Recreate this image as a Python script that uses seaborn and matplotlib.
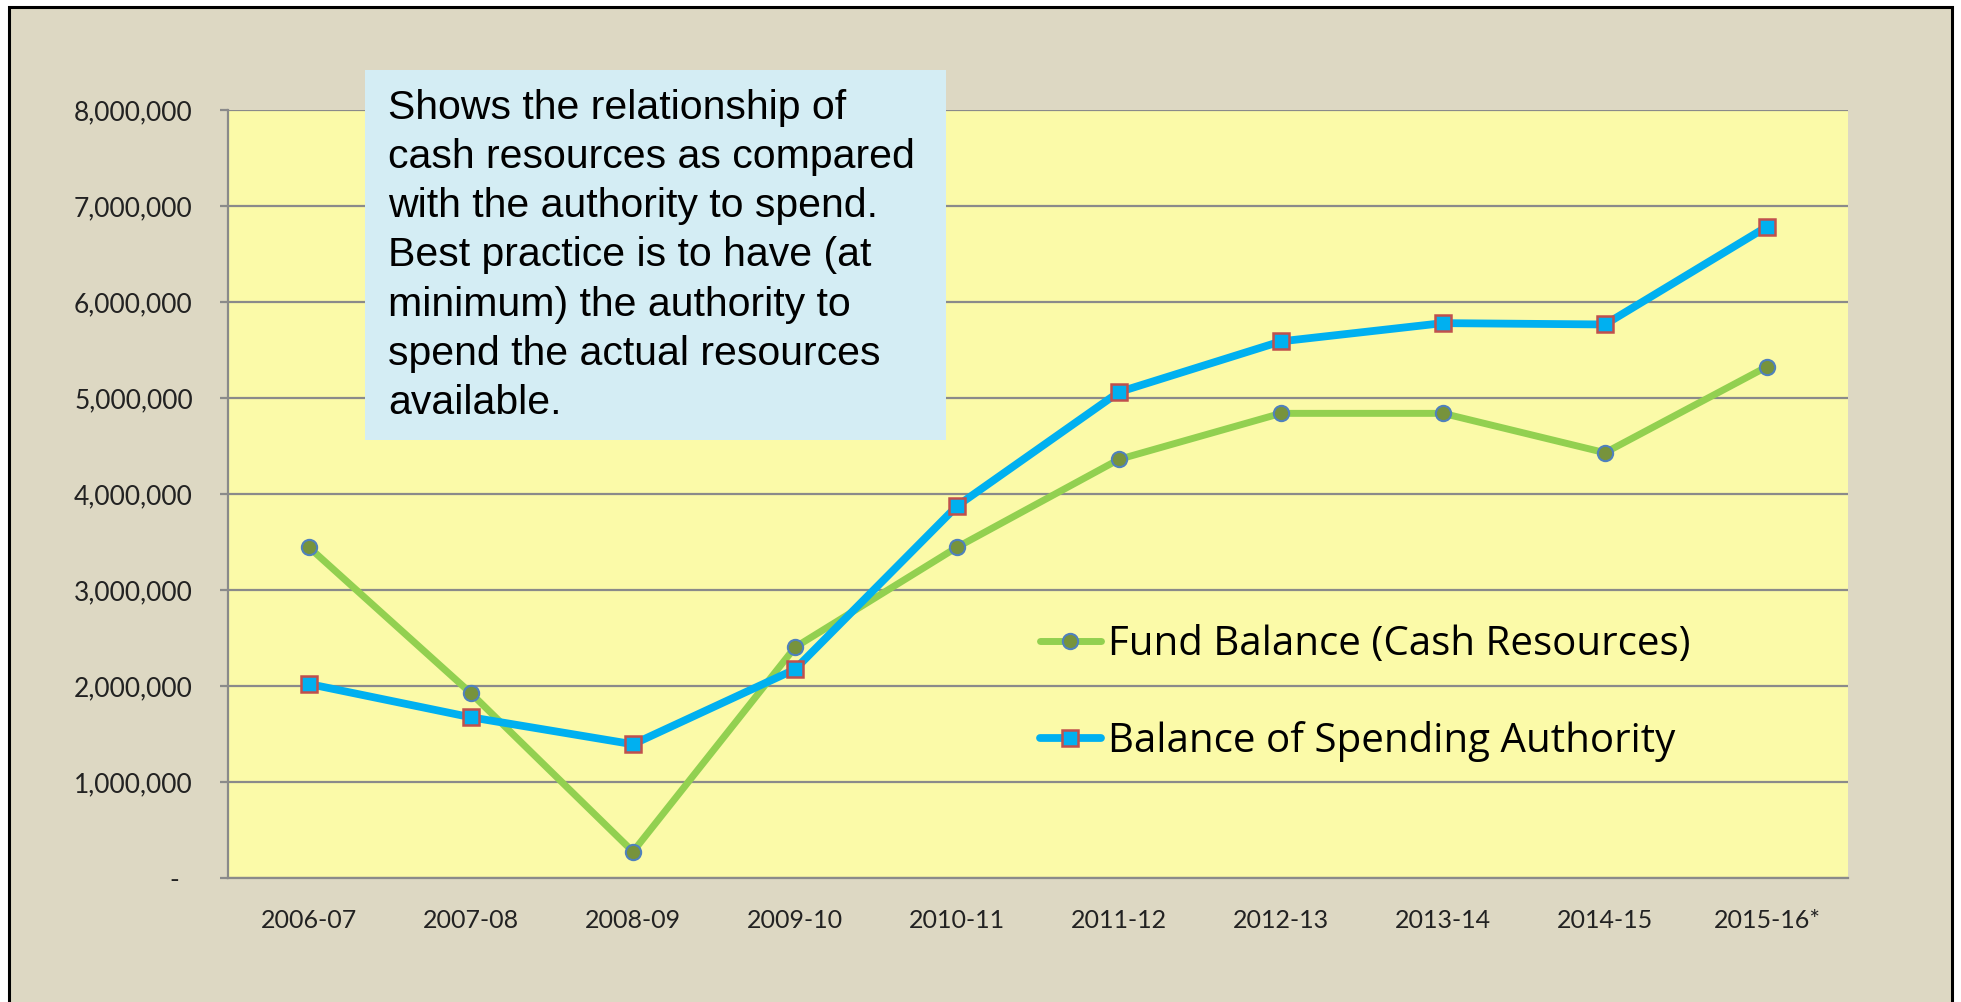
import matplotlib
matplotlib.use("Agg")
import matplotlib.pyplot as plt
from matplotlib.patches import Rectangle
from matplotlib.ticker import FuncFormatter, FixedLocator
import seaborn as sns
import pandas as pd

years = ['2006-07', '2007-08', '2008-09', '2009-10', '2010-11',
         '2011-12', '2012-13', '2013-14', '2014-15', '2015-16*']
fund_balance = [3445000, 1924000, 274000, 2403000, 3445000,
                4361000, 4840000, 4840000, 4430000, 5326000]
spending_authority = [2021000, 1674000, 1393000, 2174000, 3875000,
                      5062000, 5590000, 5780000, 5766000, 6785000]
note = ("Shows the relationship of\n"
        "cash resources as compared\n"
        "with the authority to spend.\n"
        "Best practice is to have (at\n"
        "minimum) the authority to\n"
        "spend the actual resources\n"
        "available.")

df = pd.DataFrame({'year': years, 'fund': fund_balance, 'spend': spending_authority})

sns.set_style('white')
plt.rcParams['font.family'] = ['Lato', 'DejaVu Sans']

W, H = 1961, 1002
fig = plt.figure(figsize=(W / 100, H / 100), dpi=100, facecolor='white')

# beige panel with black frame
fig.add_artist(Rectangle((9 / W, -0.05), (1952 - 9) / W, 1.05 - 7 / H,
                         transform=fig.transFigure, facecolor='#DDD8C3',
                         edgecolor='black', linewidth=2.2, zorder=-10))

ax = fig.add_axes([228 / W, 1 - 878 / H, (1848 - 228) / W, (878 - 110) / H])
ax.set_facecolor('#FBFAA8')

sns.lineplot(data=df, x='year', y='fund', sort=False, ax=ax, color='#92D050',
             linewidth=5.0, marker='o', markersize=11, markerfacecolor='#77933C',
             markeredgecolor='#4F81BD', markeredgewidth=1.5,
             label='Fund Balance (Cash Resources)')
sns.lineplot(data=df, x='year', y='spend', sort=False, ax=ax, color='#00B0F0',
             linewidth=5.6, marker='s', markersize=11, markerfacecolor='#00B0F0',
             markeredgecolor='#C0504D', markeredgewidth=1.8,
             label='Balance of Spending Authority')

ax.set_xlim(-0.5, len(years) - 0.5)
ax.set_ylim(0, 8000000)
ax.set_yticks(range(0, 8000001, 1000000))
ax.yaxis.set_major_formatter(FuncFormatter(lambda v, p: '-  ' if v == 0 else f'{v:,.0f}'))
ax.set_xlabel('')
ax.set_ylabel('')

ax.grid(axis='y', color='#8A8A8A', linewidth=1.6)
ax.grid(axis='x', visible=False)
ax.set_axisbelow(True)
for s in ['top', 'right']:
    ax.spines[s].set_visible(False)
for s in ['left', 'bottom']:
    ax.spines[s].set_color('#8A8A8A')
    ax.spines[s].set_linewidth(1.6)

ax.xaxis.set_minor_locator(FixedLocator([i - 0.5 for i in range(len(years) + 1)]))
ax.tick_params(axis='x', which='major', length=0, pad=22, labelsize=18, labelcolor='#222222')
ax.tick_params(axis='x', which='minor', length=6.5, width=1.6, color='#8A8A8A', direction='out')
ax.tick_params(axis='y', length=5.8, width=1.6, color='#8A8A8A', pad=19.5, labelsize=19,
               labelcolor='#222222', left=True)

leg = ax.legend(loc='center left', bbox_to_anchor=(1040 / W, 1 - 693.5 / H),
                bbox_transform=fig.transFigure, frameon=False,
                prop={'family': ['Open Sans', 'DejaVu Sans'], 'size': 29},
                handlelength=1.51, handletextpad=0.17, labelspacing=1.4,
                borderpad=0, borderaxespad=0)
for t in leg.get_texts():
    t.set_color('black')

# note box
fig.add_artist(Rectangle((365 / W, 1 - 440 / H), (946 - 365) / W, (440 - 70) / H,
                         transform=fig.transFigure, facecolor='#D4EDF4',
                         edgecolor='none', zorder=5))
fig.text(388 / W, 1 - 89 / H, note, transform=fig.transFigure, ha='left', va='top',
         fontsize=29.5, family=['Liberation Sans', 'DejaVu Sans'], color='black',
         linespacing=1.372, zorder=6)

fig.savefig('out.png', dpi=100, facecolor='white')
